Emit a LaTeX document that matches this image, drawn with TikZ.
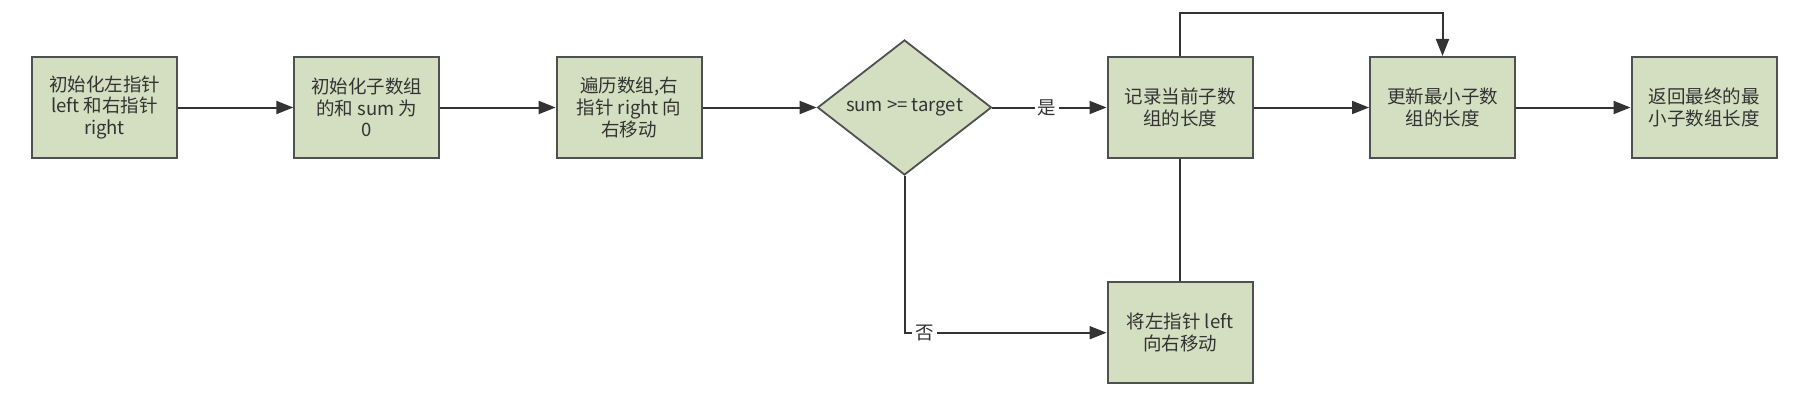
\documentclass[tikz,border=0pt]{standalone}
\usepackage{fontspec}
\setmainfont{Noto Sans CJK SC}
\usetikzlibrary{shapes.geometric,arrows.meta}
\definecolor{boxfill}{RGB}{212,222,192}
\definecolor{boxline}{RGB}{80,80,80}
\definecolor{txt}{RGB}{51,51,51}
\definecolor{arrowc}{RGB}{51,51,51}
\tikzset{
  stepbox/.style={draw=boxline, line width=2pt, fill=boxfill, minimum width=145pt, minimum height=101pt, inner sep=0pt, align=center, text=txt, font=\fontsize{18.5}{21.6}\selectfont},
  decision/.style={diamond, draw=boxline, line width=1.8pt, fill=boxfill, minimum width=174pt, minimum height=135pt, inner sep=0pt, aspect=1.29, text=txt, font=\fontsize{18.5}{21.6}\selectfont},
  arr/.style={draw=arrowc, line width=2pt, -{Triangle[length=17pt,width=13pt]}},
  plainline/.style={draw=arrowc, line width=2pt},
  elabel/.style={fill=white, inner sep=3pt, text=txt, font=\fontsize{18.5}{21.6}\selectfont}
}
\begin{document}
\begin{tikzpicture}[x=1pt,y=-1pt]
\useasboundingbox (0,0) rectangle (1808,412);
\node[stepbox] (n1) at (104.5,107.5) {初始化左指针\\left 和右指针\\right};
\node[stepbox] (n2) at (366.8,107.5) {初始化子数组\\的和 sum 为\\0};
\node[stepbox] (n3) at (629.1,107.5) {遍历数组,右\\指针 right 向\\右移动};
\node[decision] (d) at (904.5,107.5) {sum >= target};
\node[stepbox] (n4) at (1180,107.5) {记录当前子数\\组的长度};
\node[stepbox] (n5) at (1442.5,107.5) {更新最小子数\\组的长度};
\node[stepbox] (n6) at (1704,107.5) {返回最终的最\\小子数组长度};
\node[stepbox] (n7) at (1180,332.7) {将左指针 left\\向右移动};
\coordinate (top) at (0,12.7);
\draw[arr] (n1) -- (n2);
\draw[arr] (n2) -- (n3);
\draw[arr] (n3) -- (d.west);
\draw[arr] (d.east) -- node[elabel, pos=0.48] (yes) {是} (n4.west);
\draw[arr] (n4) -- (n5);
\draw[arr] (n5) -- (n6);
\draw[arr] (n4.north) -- (n4.north |- top) -| (n5.north);
\draw[plainline] (n4.south) -- (n7.north);
\draw[arr] (d.south) |- node[elabel, pos=0.55] (no) {否} (n7.west);
\end{tikzpicture}
\end{document}
